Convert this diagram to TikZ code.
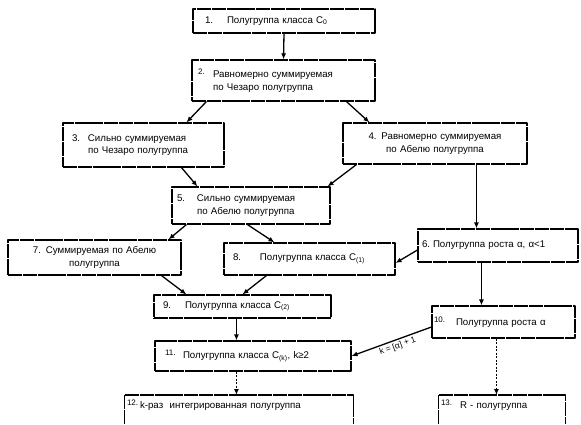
\documentclass[tikz,border=0pt]{standalone}
\usepackage{fontspec}
\setmainfont{Liberation Sans}
\usetikzlibrary{arrows.meta}

\newcommand{\nr}[2]{\makebox[#1pt][l]{#2}}
\newcommand{\nrup}[2]{\makebox[#1pt][l]{\raisebox{3pt}{\fontsize{8}{8}\selectfont #2}}}

\begin{document}
\begin{tikzpicture}[x=1pt, y=-1pt, line width=1.3pt, line join=round,
  box/.style={draw, dash pattern=on 14pt off 0.8pt, line width=1.1pt, inner ysep=2pt, align=left, font=\fontsize{9.7}{12.7}\selectfont},
  arr/.style={-{Latex[length=6pt,width=5pt]}},
  rarr/.style={{Latex[length=6pt,width=5pt]}-},
  dots/.style={arr, dash pattern=on 2pt off 1.5pt}]

  %% ════ 框 ════
  \node[box, minimum height=24pt, inner xsep=12pt, text width=158pt] (b1) at (284,21) {\nr{22}{1.}Полугруппа класса C\textsubscript{0}};
  \node[box, minimum height=41pt, inner xsep=6pt, text width=171pt] (b2) at (283.5,80.5) {\nrup{15}{2.}Равномерно суммируемая\\\hspace*{15pt}по Чезаро полугруппа};
  \node[box, minimum height=44pt, inner xsep=9pt, text width=143pt] (b3) at (143.5,145) {\nr{16}{3.}Сильно суммируемая\\\hspace*{16pt}по Чезаро полугруппа};
  \node[box, align=center, minimum height=41pt, inner xsep=6pt, text width=172pt] (b4) at (435,143.5) {4. Равномерно суммируемая\\по Абелю полугруппа};
  \node[box, minimum height=37pt, inner xsep=5pt, text width=148pt] (b5) at (251,205.5) {\nr{20}{5.}Сильно суммируемая\\\hspace*{20pt}по Абелю полугруппа};
  \node[box, minimum height=33pt, inner xsep=4pt, text width=152pt] (b6) at (498,245.5) {\nr{11}{6.}Полугруппа роста α, α<1};
  \node[box, align=center, minimum height=35pt, inner xsep=6pt, text width=161pt] (b7) at (94.5,257.5) {7. Суммируемая по Абелю\\полугруппа};
  \node[box, minimum height=32pt, inner xsep=9pt, text width=153pt] (b8) at (309.5,259) {\nr{27}{8.}Полугруппа класса C\textsubscript{(1)}};
  \node[box, minimum height=23pt, inner xsep=9pt, text width=159pt] (b9) at (242.5,306.5) {\nr{22}{9.}Полугруппа класса C\textsubscript{(2)}};
  \node[box, minimum height=32pt, inner xsep=2pt, text width=139pt] (b10) at (503.5,322) {\nrup{22}{10.}Полугруппа роста α};
  \node[box, minimum height=30pt, inner xsep=10pt, text width=176pt] (b11) at (253,356) {\nrup{18}{11.}Полугруппа класса C\textsubscript{(k)}, k≥2};
  % низ обрезан краем листа
  \node[box, draw=none, anchor=north, inner ysep=4pt, inner xsep=2pt, text width=224pt] (b12) at (239,395) {\nrup{13}{12.}k-раз\ \ интегрированная полугруппа};
  \node[box, draw=none, anchor=north, inner ysep=4pt, inner xsep=2pt, text width=122pt] (b13) at (502,395) {\nrup{19}{13.}R - полугруппа};
  \draw[box] (b12.north west) ++(0,29) |- (b12.north east) -- ++(0,29);
  \draw[box] (b13.north west) ++(0,29) |- (b13.north east) -- ++(0,29);

  %% ════ 箭头 ════
  \draw[arr] (b1.south) -- (b2.north);
  \draw[arr] ([xshift=15pt]b2.south west) -- ([xshift=124pt]b3.north west);
  \draw[arr] ([xshift=155pt]b2.south west) -- ([xshift=27pt]b4.north west);
  \draw[arr] ([xshift=119pt]b3.south west) -- ([xshift=26pt]b5.north west);
  \draw[arr] ([xshift=14pt]b4.south west) -- ([xshift=-3pt]b5.north east);
  \draw[arr] ([xshift=134pt]b4.south west) -- ([xshift=59pt]b6.north west);
  \draw[arr] ([xshift=15pt]b5.south west) -- ([xshift=-13pt]b7.north east);
  \draw[arr] ([xshift=76pt]b5.south west) -- ([xshift=51pt]b8.north west);
  \draw[arr] ([yshift=-4.5pt]b6.west) -- ([yshift=-4pt]b8.east);
  \draw[arr] ([xshift=154pt]b7.south west) -- ([xshift=33pt]b9.north west);
  \draw[arr] ([xshift=43pt]b8.south west) -- ([xshift=89pt]b9.north west);
  \draw[arr] ([xshift=64pt]b6.south west) -- ([xshift=50pt]b10.north west);
  \draw[arr] ([xshift=83pt]b9.south west) -- ([xshift=82pt]b11.north west);
  \draw[rarr] (b11.east) -- ([yshift=-5pt]b10.west)
    node[pos=0.55, sloped, below, inner sep=2pt, font=\fontsize{8.5}{10}\selectfont] {k = [α] + 1};
  \draw[dots] ([xshift=82pt]b11.south west) -- ([xshift=112pt]b12.north west);
  \draw[dots] ([xshift=65pt]b10.south west) -- ([xshift=58pt]b13.north west);

  % 钉死画布
  \pgfresetboundingbox
  \path[use as bounding box] (0,0) rectangle (581,424);
\end{tikzpicture}
\end{document}
